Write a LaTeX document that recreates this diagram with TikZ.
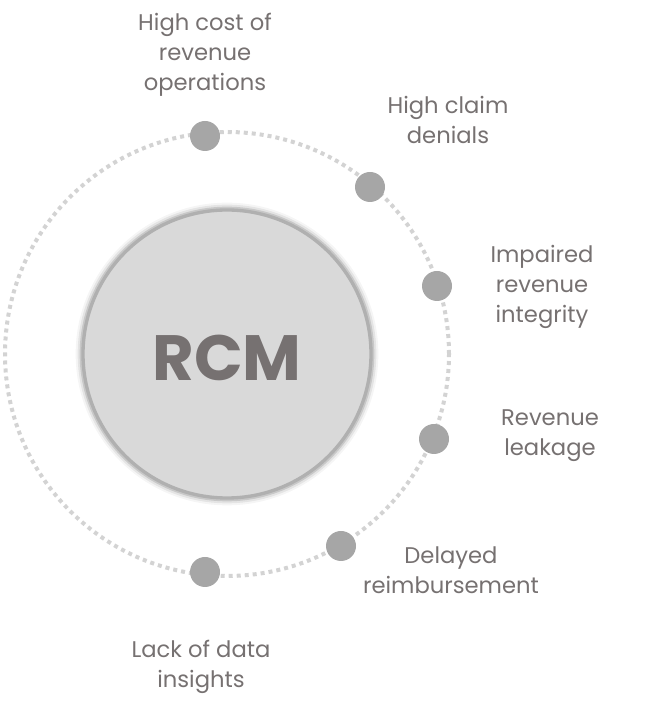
\documentclass[tikz,border=0pt]{standalone}
\usepackage{fontspec}
\setmainfont{Poppins}
\definecolor{dotgray}{HTML}{A6A6A6}
\definecolor{ringgray}{HTML}{D3D3D3}
\definecolor{hubfill}{HTML}{D9D9D9}
\definecolor{hubrim}{HTML}{B0B0B0}
\definecolor{txtgray}{HTML}{767171}
\begin{document}
\begin{tikzpicture}[x=0.75pt,y=0.75pt,
  issue/.style={circle,fill=dotgray,minimum size=22.5pt,inner sep=0pt},
  lbl/.style={align=center,text=txtgray,font=\fontsize{17}{22.5}\selectfont}]
\useasboundingbox (0,0) rectangle (666,712);
\coordinate (c) at (227,358);
\draw[ringgray, line width=3pt, dash pattern=on 3pt off 3pt] (c) circle (166.5pt);
\foreach \w/\o in {11/0.04, 8/0.07, 5/0.12} \draw[black, opacity=\o, line width=\w pt] (c) circle (108pt);
\draw[fill=hubfill, draw=hubrim, line width=2.5pt] (c) circle (108pt);
\node[text=txtgray, font=\fontsize{48}{58}\selectfont\bfseries] (rcm) at (227,354) {RCM};
\node[issue] (cost) at (205,576) {};
\node[issue] (denial) at (370,525) {};
\node[issue] (integ) at (437,426) {};
\node[issue] (leak) at (434,273) {};
\node[issue] (delay) at (341,166) {};
\node[issue] (insight) at (205,140) {};
\node[lbl] (costlbl) at (205,657) {High cost of\\revenue\\operations};
\node[lbl] (deniallbl) at (448,592) {High claim\\denials};
\node[lbl] (integlbl) at (542,425) {Impaired\\revenue\\integrity};
\node[lbl] (leaklbl) at (550,276) {Revenue\\leakage};
\node[lbl] (delaylbl) at (451,142) {Delayed\\reimbursement};
\node[lbl] (insightlbl) at (201,45) {Lack of data\\insights};
\end{tikzpicture}
\end{document}
